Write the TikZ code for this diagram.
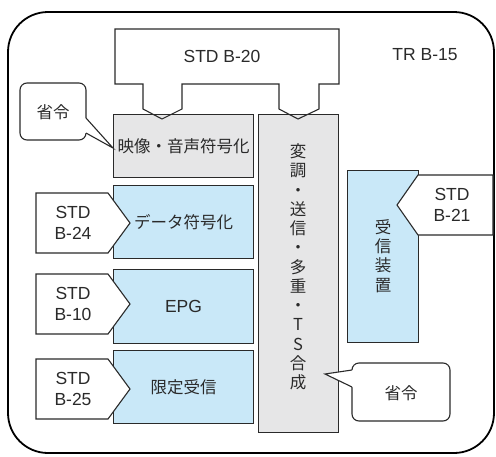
\documentclass[tikz,border=0pt]{standalone}
\usepackage{fontspec}
\setmainfont{Liberation Sans}
\newfontfamily\jp{Noto Sans CJK JP}
\definecolor{boxblue}{HTML}{C9E8F8}
\definecolor{boxgray}{HTML}{E6E6E7}
\definecolor{edge}{HTML}{2A2A2A}
\begin{document}
\begin{tikzpicture}[x=1pt,y=-1pt,
  box/.style={draw=edge, line width=1.1pt},
  blk/.style={box, inner sep=0pt, anchor=north west},
  lat/.style={font=\fontsize{17.5}{21.5}\selectfont, text=edge, align=center},
  jpt/.style={font=\jp\fontsize{16.5}{19.25}\selectfont, text=edge, align=center}]
\useasboundingbox (0,0) rectangle (496,456);
% outer frame
\draw[line width=1.8pt, rounded corners=40pt] (8,12) rectangle (494,453);
% blocks
\node[blk, fill=boxgray, minimum width=140pt, minimum height=63pt] (av) at (113,114) {};
\node[blk, fill=boxgray, minimum width=80pt, minimum height=318pt] (mod) at (258,114) {};
\node[blk, fill=boxblue, minimum width=140pt, minimum height=73pt] (data) at (113,185) {};
\node[blk, fill=boxblue, minimum width=140pt, minimum height=74pt] (epg) at (113,269) {};
\node[blk, fill=boxblue, minimum width=140pt, minimum height=73pt] (ca) at (113,350) {};
\node[blk, fill=boxblue, minimum width=71pt, minimum height=172pt] (rx) at (347,170) {};
% STD B-20 shape
\draw[box, line join=miter] (115,29) -- (339,29) -- (339,84) -- (319,84) -- (319,109) -- (298,119) -- (279,109) -- (279,84) -- (182,84) -- (182,109) -- (162,119) -- (143,109) -- (143,84) -- (115,84) -- cycle;
\node[lat] (b20) at (222,56) {STD B-20};
\node[lat] (tr) at (425,55) {TR B-15};
% left standard tags
\draw[box, fill=white] (36,193) -- (108,193) -- (130,223) -- (108,253) -- (36,253) -- cycle;
\node[lat] (b24) at (73,223) {STD\\B-24};
\draw[box, fill=white] (36,274) -- (108,274) -- (130,304) -- (108,334) -- (36,334) -- cycle;
\node[lat] (b10) at (73,304) {STD\\B-10};
\draw[box, fill=white] (36,359) -- (108,359) -- (130,389) -- (108,419) -- (36,419) -- cycle;
\node[lat] (b25) at (73,389) {STD\\B-25};
% right standard tag
\draw[box, fill=white] (493,175) -- (418,175) -- (397,205) -- (418,235) -- (493,235) -- cycle;
\node[lat] (b21) at (452,205) {STD\\B-21};
% upper-left callout
\draw[box, fill=white, rounded corners=7pt] (20,83) rectangle (86,140);
\fill[white] (84,118) -- (86,118) -- (113,148) -- (86,133) -- (84,133) -- cycle;
\draw[box, line join=miter] (86,118) -- (113,148) -- (86,133);
\node[jpt] (sr1) at (53,112) {省令};
% lower-right callout
\draw[box, fill=white, rounded corners=7pt] (352,363) rectangle (450,421);
\fill[white] (354,370) -- (352,370) -- (325,374) -- (352,387) -- (354,387) -- cycle;
\draw[box, line join=miter] (352,370) -- (325,374) -- (352,387);
\node[jpt] (sr2) at (401,393) {省令};
% block texts
\node[jpt] (avt) at (av.center) {映像・音声符号化};
\node[jpt] (datat) at (data.center) {データ符号化};
\node[lat] (epgt) at (epg.center) {EPG};
\node[jpt] (cat) at (ca.center) {限定受信};
\node[jpt] (modt) at (298,267) {変\\調\\・\\送\\信\\・\\多\\重\\・\\T\\S\\合\\成};
\node[jpt] (rxt) at (383,256) {受\\信\\装\\置};
\end{tikzpicture}
\end{document}
